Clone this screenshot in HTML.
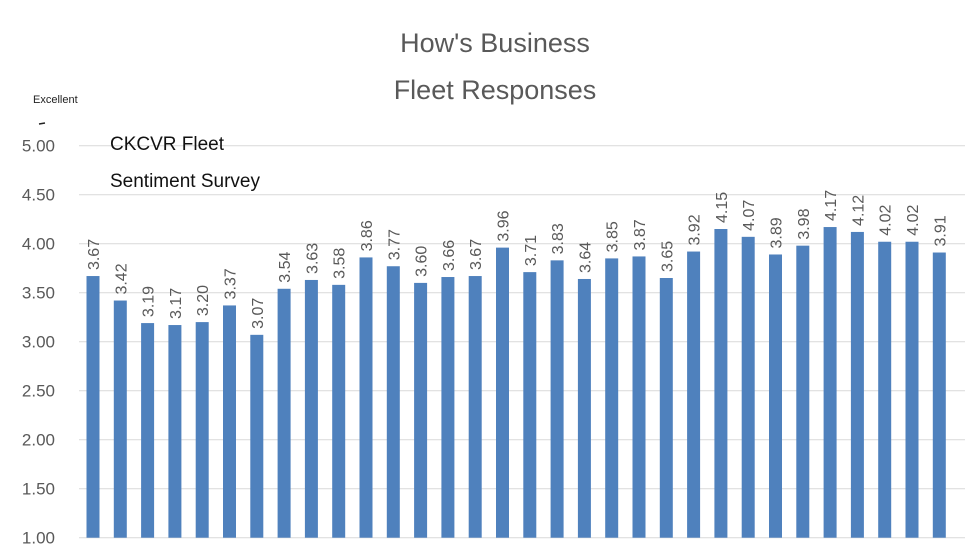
<!DOCTYPE html><html><head><style>body{margin:0;background:#fff}svg{display:block}</style></head><body>
<svg width="980" height="552" xmlns="http://www.w3.org/2000/svg" font-family="Liberation Sans, sans-serif">
<rect width="980" height="552" fill="#fff"/>
<text x="495" y="52" font-size="27" fill="#595959" text-anchor="middle">How's Business</text>
<text x="495" y="99" font-size="27" fill="#595959" text-anchor="middle">Fleet Responses</text>
<text x="33" y="103" font-size="11" fill="#222">Excellent</text>
<line x1="39" x2="45" y1="124" y2="123" stroke="#222" stroke-width="1.5"/>
<g id="g"></g>
<text x="110" y="150" font-size="19" fill="#111">CKCVR Fleet</text>
<text x="110" y="187" font-size="19" fill="#111">Sentiment  Survey</text>
</svg>
<script>
const v=[3.67,3.42,3.19,3.17,3.20,3.37,3.07,3.54,3.63,3.58,3.86,3.77,3.60,3.66,3.67,3.96,3.71,3.83,3.64,3.85,3.87,3.65,3.92,4.15,4.07,3.89,3.98,4.17,4.12,4.02,4.02,3.91];
const y=x=>537.7-(x-1)*98;let s='';
for(let k=0;k<=8;k++){const t=1+k*0.5,yy=y(t);s+=`<line x1="79" x2="965" y1="${yy}" y2="${yy}" stroke="#d9d9d9" stroke-width="1"/><text x="55" y="${yy+6}" font-size="17" fill="#595959" text-anchor="end">${t.toFixed(2)}</text>`;}
v.forEach((d,i)=>{const c=93+i*27.3,t=y(d);s+=`<rect x="${c-6.5}" y="${t}" width="13" height="${537.7-t}" fill="#4f81bd"/><text transform="translate(${c+6},${t-6}) rotate(-90)" font-size="16" fill="#595959">${d.toFixed(2)}</text>`;});
document.getElementById('g').innerHTML=s;
</script>
</body></html>
